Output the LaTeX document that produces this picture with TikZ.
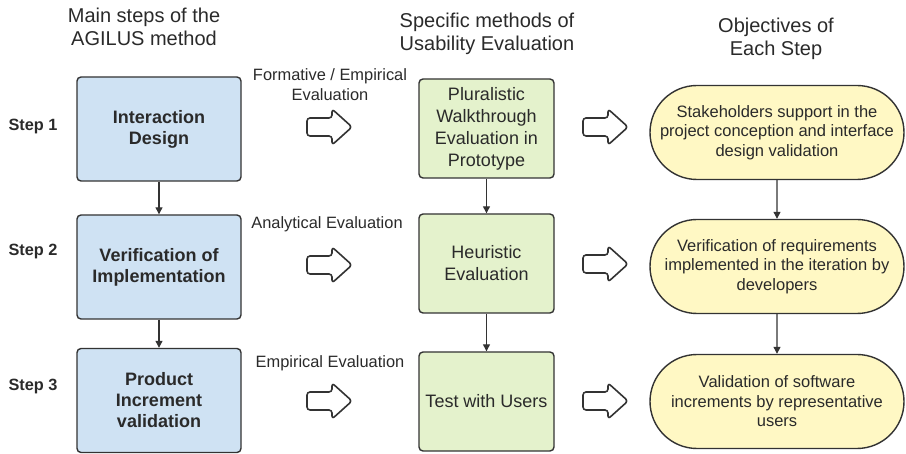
\documentclass[tikz,border=0pt]{standalone}
\usepackage{fontspec}
\setmainfont{Liberation Sans}
\usetikzlibrary{shapes.misc,arrows.meta}
\definecolor{bluefill}{HTML}{CFE2F3}
\definecolor{greenfill}{HTML}{E4F2CC}
\definecolor{yellowfill}{HTML}{FFF8C4}
\definecolor{inkc}{HTML}{2A2A2A}
\definecolor{edgec}{HTML}{333333}
\begin{document}
\begin{tikzpicture}[x=1pt,y=-1pt,
  every node/.style={text=inkc},
  heading/.style={align=center,font=\fontsize{20}{23}\selectfont},
  steplabel/.style={font=\fontsize{16.3}{19}\selectfont\bfseries},
  evallabel/.style={align=center,font=\fontsize{16.4}{20}\selectfont},
  bluebox/.style={draw=edgec,line width=1.4pt,rounded corners=4pt,fill=bluefill,
    minimum width=164pt,minimum height=104pt,inner sep=0pt,align=center,
    font=\fontsize{18}{21}\selectfont\bfseries},
  greenbox/.style={draw=edgec,line width=1.4pt,rounded corners=4pt,fill=greenfill,
    minimum width=135pt,minimum height=99pt,inner sep=0pt,align=center,
    font=\fontsize{18}{22}\selectfont},
  pill/.style={draw=edgec,line width=1.4pt,rounded rectangle,fill=yellowfill,
    minimum width=254pt,minimum height=94pt,inner sep=0pt,align=center,
    font=\fontsize{16.5}{19.5}\selectfont},
  hollowarr/.pic={
    \draw[draw=edgec,line width=1.6pt,fill=white,rounded corners=3pt,line join=round]
      (-22.5,-9) -- (2.5,-9) -- (2.5,-18) -- (22.5,0) -- (2.5,18) -- (2.5,9)
      -- (-22.5,9) -- cycle;
  },
  link/.style={draw=edgec,line width=1.2pt,-{Triangle[length=7pt,width=7pt]}}
]
\useasboundingbox (0,0) rectangle (906,454);

% headings
\node[heading] (h1) at (144,27) {Main steps of the\\AGILUS method};
\node[heading] (h2) at (487,34) {Specific methods of\\Usability Evaluation};
\node[heading] (h3) at (776,39) {Objectives of\\Each Step};

% step labels
\node[steplabel] (s1) at (33,127) {Step 1};
\node[steplabel] (s2) at (33,252) {Step 2};
\node[steplabel] (s3) at (33,387) {Step 3};

% blue boxes
\node[bluebox] (b1) at (159,129) {Interaction\\Design};
\node[bluebox] (b2) at (159,267) {Verification of\\Implementation};
\node[bluebox] (b3) at (159,400.5) {Product\\Increment\\validation};

% evaluation labels
\node[evallabel] (e1) at (330,85) {Formative / Empirical\\Evaluation};
\node[evallabel] (e2) at (327,224) {Analytical Evaluation};
\node[evallabel] (e3) at (330,363) {Empirical Evaluation};

% hollow arrows
\pic at (329.5,127) {hollowarr};
\pic at (329.5,265) {hollowarr};
\pic at (329.5,401) {hollowarr};
\pic at (605.5,127) {hollowarr};
\pic at (605.5,264) {hollowarr};
\pic at (605.5,401) {hollowarr};

% green boxes
\node[greenbox] (g1) at (486.5,128.5) {Pluralistic\\Walkthrough\\Evaluation in\\Prototype};
\node[greenbox] (g2) at (486.5,263.5) {Heuristic\\Evaluation};
\node[greenbox] (g3) at (486.5,401.5) {Test with Users};

% yellow pills
\node[pill] (y1) at (777,132.5) {Stakeholders support in the\\project conception and interface\\design validation};
\node[pill] (y2) at (777,266.5) {Verification of requirements\\implemented in the iteration by\\developers};
\node[pill] (y3) at (777,401.5) {Validation of software\\increments by representative\\users};

% connectors
\draw[link] (b1) -- (b2);
\draw[link] (b2) -- (b3);
\draw[link] (g1) -- (g2);
\draw[link] (g2) -- (g3);
\draw[link] (y1) -- (y2);
\draw[link] (y2) -- (y3);
\end{tikzpicture}
\end{document}
